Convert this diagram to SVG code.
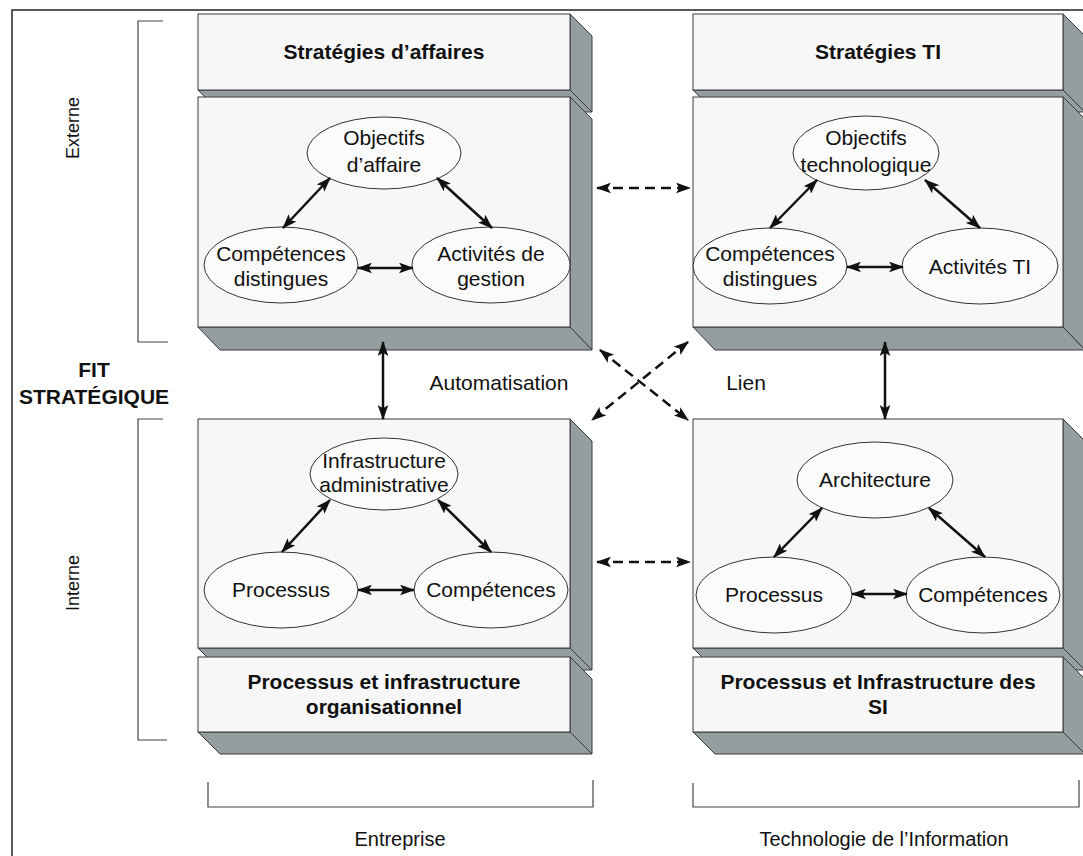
<svg xmlns="http://www.w3.org/2000/svg" width="1083" height="856" viewBox="0 0 1083 856">
  <defs>
    <marker id="ah" viewBox="0 0 14 10" refX="13" refY="5" markerWidth="15" markerHeight="11" markerUnits="userSpaceOnUse" orient="auto-start-reverse">
      <path d="M0,0 L14,5 L0,10 L3,5 z" fill="#111"/>
    </marker>
    <style>
      .face { fill: #f6f7f6; stroke: #3a3a3a; stroke-width: 1; }
      .shade { fill: #949ea0; stroke: #3a3a3a; stroke-width: 1; }
      .ell { fill: #fbfbfb; stroke: #333; stroke-width: 1; }
      .frame { fill: none; stroke: #222; stroke-width: 1.5; }
      .brk { fill: none; stroke: #444; stroke-width: 1.2; }
      .t { font-family: "Liberation Sans", Arial, sans-serif; font-size: 21px; fill: #111; text-anchor: middle; }
      .tb { font-family: "Liberation Sans", Arial, sans-serif; font-size: 21px; font-weight: bold; fill: #111; text-anchor: middle; }
      .ts { font-family: "Liberation Sans", Arial, sans-serif; font-size: 18px; fill: #111; text-anchor: middle; }
      .tl { font-family: "Liberation Sans", Arial, sans-serif; font-size: 20px; fill: #111; text-anchor: middle; }
      .link { fill: none; stroke: #111; stroke-width: 2.5; marker-start: url(#ah); marker-end: url(#ah); }
      .dash { stroke-dasharray: 10 6; }
    </style>
  </defs>

  <rect width="1083" height="856" fill="#ffffff"/>

  <!-- outer frame -->
  <path class="frame" d="M12,856 V10 H1083"/>

  <!-- side brackets and bottom brackets -->
  <g id="brackets">
    <path class="brk" d="M163,21 H138 V342 H168"/>
    <path class="brk" d="M163,419 H138 V740 H167"/>
    <path class="brk" d="M208,782 V807 H593 V780"/>
    <path class="brk" d="M693,783 V807 H1079 V780"/>
  </g>

  <!-- side labels -->
  <text class="ts" transform="translate(79,128) rotate(-90)">Externe</text>
  <text class="ts" transform="translate(79,583) rotate(-90)">Interne</text>
  <text class="tb" x="94" y="377">FIT</text>
  <text class="tb" x="94" y="404">STRATÉGIQUE</text>
  <text class="tl" x="400" y="846">Entreprise</text>
  <text class="tl" x="884" y="846">Technologie de l’Information</text>
  <text class="t" x="499" y="390">Automatisation</text>
  <text class="t" x="746" y="390">Lien</text>

  <!-- business strategy block -->
  <g id="strategies-affaires">
    <polygon class="shade" points="570,14 592,36 592,112 570,90"/>
    <polygon class="shade" points="198,90 570,90 592,112 220,112"/>
    <rect class="face" x="198" y="14" width="372" height="76"/>
    <text class="tb" x="384" y="59">Stratégies d’affaires</text>
  </g>
  <g id="externe-entreprise">
    <polygon class="shade" points="570,97 592,119 592,350 570,327"/>
    <polygon class="shade" points="198,327 570,327 592,350 220,350"/>
    <rect class="face" x="198" y="97" width="372" height="230"/>
  </g>

  <!-- IT strategy block -->
  <g id="strategies-ti">
    <polygon class="shade" points="1063,14 1085,36 1085,112 1063,90"/>
    <polygon class="shade" points="693,90 1063,90 1085,112 715,112"/>
    <rect class="face" x="693" y="14" width="370" height="76"/>
    <text class="tb" x="878" y="59">Stratégies TI</text>
  </g>
  <g id="externe-ti">
    <polygon class="shade" points="1063,97 1085,119 1085,350 1063,327"/>
    <polygon class="shade" points="693,327 1063,327 1085,350 715,350"/>
    <rect class="face" x="693" y="97" width="370" height="230"/>
  </g>

  <!-- organisational infrastructure block -->
  <g id="interne-entreprise">
    <polygon class="shade" points="570,419 592,441 592,670 570,648"/>
    <polygon class="shade" points="198,648 570,648 592,670 220,670"/>
    <rect class="face" x="198" y="419" width="372" height="229"/>
  </g>
  <g id="processus-organisationnel">
    <polygon class="shade" points="570,657 592,679 592,754 570,732"/>
    <polygon class="shade" points="198,732 570,732 592,754 220,754"/>
    <rect class="face" x="198" y="657" width="372" height="75"/>
    <text class="tb" x="384" y="689">Processus et infrastructure</text>
    <text class="tb" x="384" y="714">organisationnel</text>
  </g>

  <!-- IS infrastructure block -->
  <g id="interne-ti">
    <polygon class="shade" points="1063,419 1085,441 1085,670 1063,648"/>
    <polygon class="shade" points="693,648 1063,648 1085,670 715,670"/>
    <rect class="face" x="693" y="419" width="370" height="229"/>
  </g>
  <g id="processus-si">
    <polygon class="shade" points="1063,657 1085,679 1085,754 1063,732"/>
    <polygon class="shade" points="693,732 1063,732 1085,754 715,754"/>
    <rect class="face" x="693" y="657" width="370" height="75"/>
    <text class="tb" x="878" y="689">Processus et Infrastructure des</text>
    <text class="tb" x="878" y="714">SI</text>
  </g>

  <!-- ellipse nodes: business strategy -->
  <g id="objectifs-affaire">
    <ellipse class="ell" cx="384" cy="153" rx="77" ry="36"/>
    <text class="t" x="384" y="145">Objectifs</text>
    <text class="t" x="384" y="172">d’affaire</text>
  </g>
  <g id="competences-distingues-e">
    <ellipse class="ell" cx="281" cy="265" rx="77" ry="38"/>
    <text class="t" x="281" y="261">Compétences</text>
    <text class="t" x="281" y="286">distingues</text>
  </g>
  <g id="activites-gestion">
    <ellipse class="ell" cx="491" cy="265" rx="79" ry="38"/>
    <text class="t" x="491" y="261">Activités de</text>
    <text class="t" x="491" y="286">gestion</text>
  </g>

  <!-- ellipse nodes: IT strategy -->
  <g id="objectifs-technologique">
    <ellipse class="ell" cx="866" cy="153" rx="73" ry="37"/>
    <text class="t" x="866" y="145">Objectifs</text>
    <text class="t" x="866" y="172">technologique</text>
  </g>
  <g id="competences-distingues-ti">
    <ellipse class="ell" cx="770" cy="266" rx="77" ry="38"/>
    <text class="t" x="770" y="261">Compétences</text>
    <text class="t" x="770" y="286">distingues</text>
  </g>
  <g id="activites-ti">
    <ellipse class="ell" cx="980" cy="266" rx="78" ry="38"/>
    <text class="t" x="980" y="274">Activités TI</text>
  </g>

  <!-- ellipse nodes: organisational infrastructure -->
  <g id="infrastructure-administrative">
    <ellipse class="ell" cx="384" cy="474" rx="74" ry="36"/>
    <text class="t" x="384" y="468">Infrastructure</text>
    <text class="t" x="384" y="492">administrative</text>
  </g>
  <g id="processus-e">
    <ellipse class="ell" cx="281" cy="590" rx="77" ry="38"/>
    <text class="t" x="281" y="597">Processus</text>
  </g>
  <g id="competences-e">
    <ellipse class="ell" cx="491" cy="590" rx="77" ry="38"/>
    <text class="t" x="491" y="597">Compétences</text>
  </g>

  <!-- ellipse nodes: IS infrastructure -->
  <g id="architecture">
    <ellipse class="ell" cx="875" cy="480" rx="78" ry="38"/>
    <text class="t" x="875" y="487">Architecture</text>
  </g>
  <g id="processus-ti">
    <ellipse class="ell" cx="774" cy="595" rx="78" ry="38"/>
    <text class="t" x="774" y="602">Processus</text>
  </g>
  <g id="competences-ti">
    <ellipse class="ell" cx="983" cy="595" rx="77" ry="38"/>
    <text class="t" x="983" y="602">Compétences</text>
  </g>

  <!-- connectors -->
  <g id="connectors">
    <line class="link" x1="330" y1="178" x2="283" y2="228"/>
    <line class="link" x1="437" y1="178" x2="492" y2="228"/>
    <line class="link" x1="358" y1="268" x2="413" y2="268"/>

    <line class="link" x1="817" y1="180" x2="770" y2="228"/>
    <line class="link" x1="925" y1="180" x2="980" y2="228"/>
    <line class="link" x1="847" y1="267" x2="903" y2="267"/>

    <line class="link" x1="330" y1="500" x2="282" y2="552"/>
    <line class="link" x1="438" y1="500" x2="491" y2="552"/>
    <line class="link" x1="358" y1="590" x2="414" y2="590"/>

    <line class="link" x1="822" y1="508" x2="774" y2="557"/>
    <line class="link" x1="929" y1="508" x2="985" y2="557"/>
    <line class="link" x1="852" y1="594" x2="907" y2="594"/>

    <line class="link" x1="383" y1="342" x2="383" y2="419"/>
    <line class="link" x1="885" y1="342" x2="885" y2="419"/>

    <line class="link dash" x1="597" y1="188" x2="690" y2="188"/>
    <line class="link dash" x1="597" y1="562" x2="690" y2="562"/>
    <line class="link dash" x1="600" y1="350" x2="688" y2="420"/>
    <line class="link dash" x1="688" y1="342" x2="592" y2="420"/>
  </g>
</svg>
